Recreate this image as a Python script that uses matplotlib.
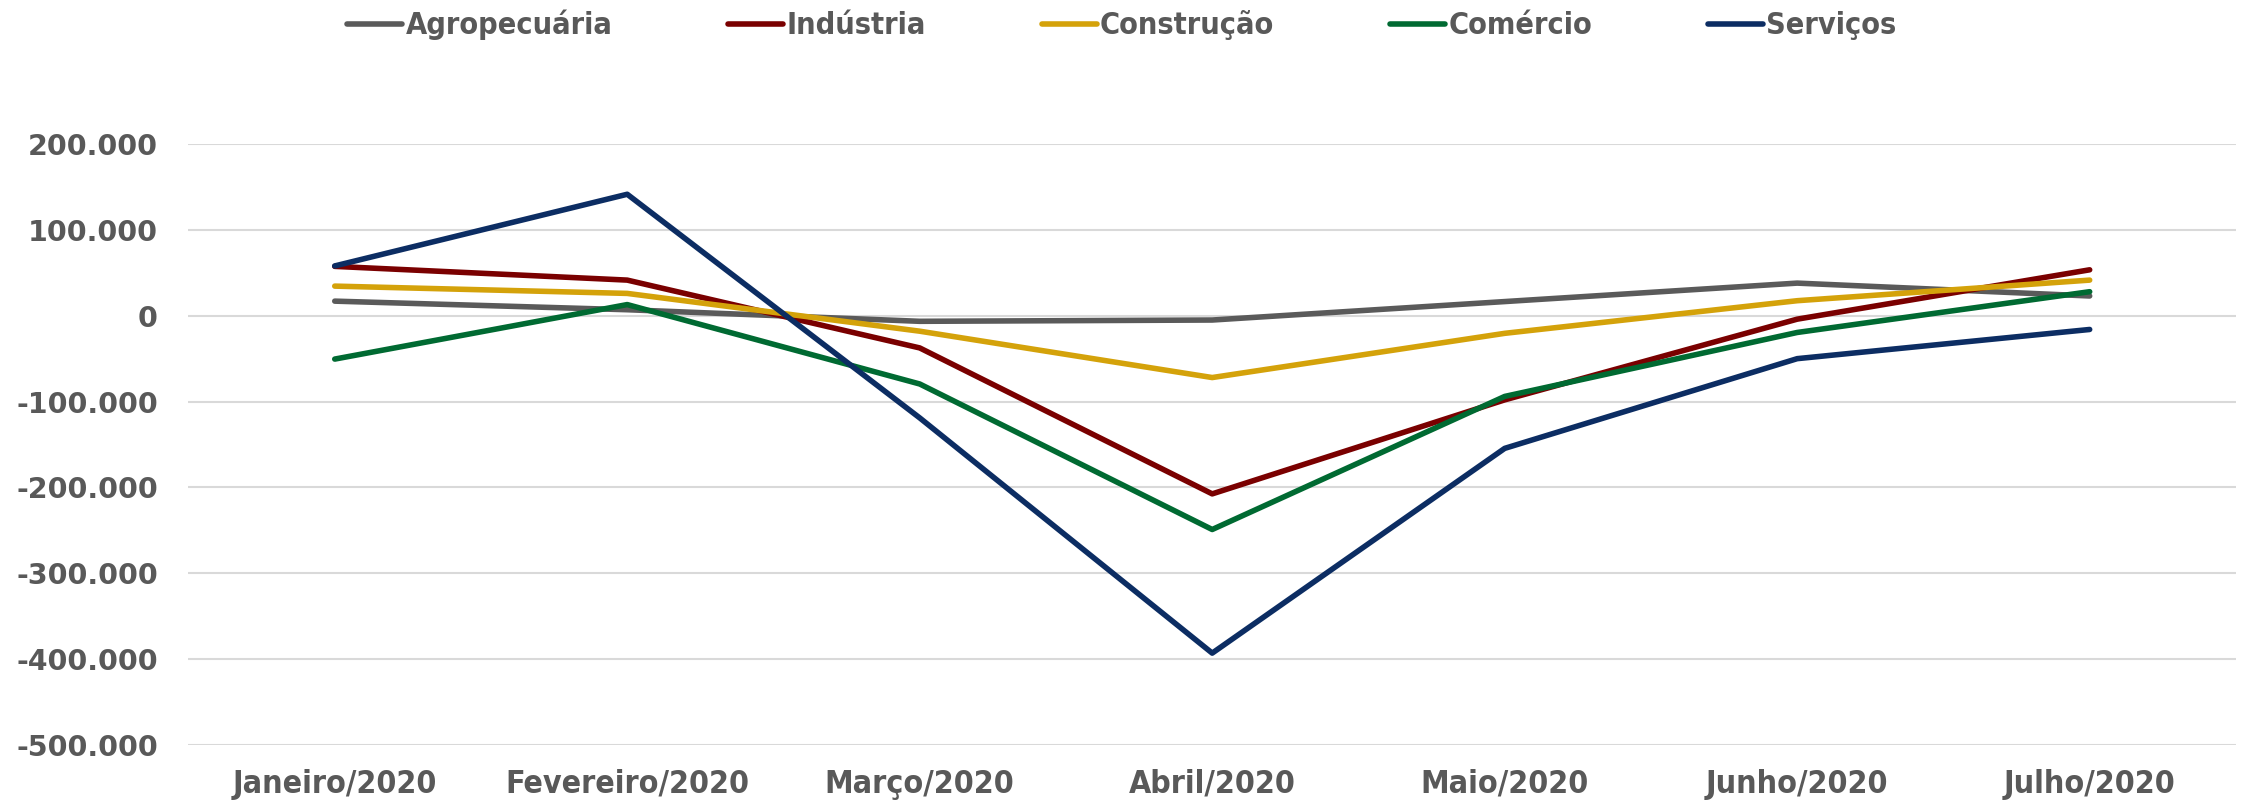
import matplotlib
matplotlib.use("Agg")
import matplotlib.pyplot as plt
from matplotlib.ticker import FuncFormatter, MultipleLocator
from matplotlib.font_manager import FontProperties

months = ["Janeiro/2020", "Fevereiro/2020", "Março/2020", "Abril/2020",
          "Maio/2020", "Junho/2020", "Julho/2020"]
agropecuaria = [17000, 7000, -6500, -5000, 16500, 38000, 23000]
industria = [57500, 41500, -37500, -207500, -98000, -4000, 53500]
construcao = [34500, 26000, -18000, -72000, -20500, 17500, 41500]
comercio = [-50500, 13000, -79500, -249000, -94000, -19500, 28000]
servicos = [58000, 141500, -119000, -393000, -154500, -50000, -16000]

series_names = ["Agropecuária", "Indústria", "Construção", "Comércio", "Serviços"]
series_values = [agropecuaria, industria, construcao, comercio, servicos]
colors = ["#5A5A5A", "#7A0000", "#D4A20A", "#006A32", "#0C2D63"]

text_color = "#595959"

cond = dict(family="DejaVu Sans", stretch="condensed", weight="bold")

fig = plt.figure(figsize=(22.44, 8.06), dpi=100)
ax = fig.add_axes([0.084, 0.0757, 0.9124, 0.7456])

x = list(range(len(months)))
handles = []
for name, vals, c in zip(series_names, series_values, colors):
    h, = ax.plot(x, vals, color=c, lw=4.0, solid_capstyle="round",
                 solid_joinstyle="round", label=name, zorder=3)
    handles.append(h)

ax.set_xlim(-0.5, len(months) - 0.5)
ax.set_ylim(-500000, 200000)
ax.yaxis.set_major_locator(MultipleLocator(100000))
ax.yaxis.set_major_formatter(FuncFormatter(lambda v, p: f"{int(round(v)):,}".replace(",", ".")))
ax.grid(axis="y", color="#D9D9D9", lw=1.5, zorder=0)
ax.set_axisbelow(True)
for s in ax.spines.values():
    s.set_visible(False)

ax.set_xticks(x)
ax.set_xticklabels(months)
ax.tick_params(axis="both", length=0)
ax.tick_params(axis="y", pad=22)
ax.tick_params(axis="x", pad=17)
for lab in ax.get_yticklabels():
    lab.set_fontfamily("DejaVu Sans")
    lab.set_fontweight("bold")
    lab.set_fontsize(20.5)
    lab.set_color(text_color)
for lab in ax.get_xticklabels():
    lab.set_fontproperties(FontProperties(size=23, **cond))
    lab.set_color(text_color)

leg = fig.legend(handles=handles, loc="center", bbox_to_anchor=(0.5, 1 - 25 / 806),
                 ncol=5, frameon=False, handlelength=1.8, handletextpad=0.1,
                 columnspacing=3.8,
                 prop=FontProperties(size=22, **cond))
for t in leg.get_texts():
    t.set_color(text_color)
for lh in leg.get_lines():
    lh.set_linewidth(4.0)

fig.savefig("out.png", dpi=100, facecolor="white")
